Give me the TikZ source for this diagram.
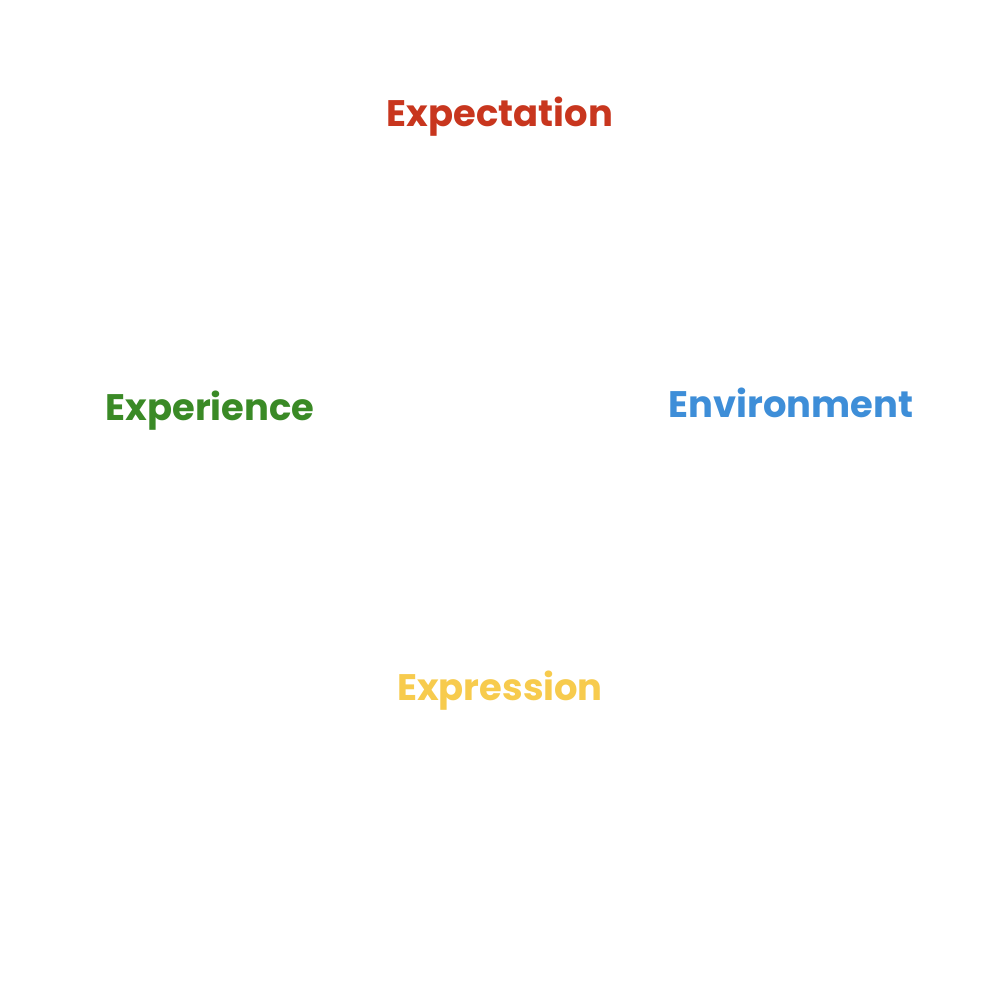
\documentclass[tikz,border=0pt]{standalone}
\usepackage{fontspec}
\setmainfont{Poppins}
\usepackage{tikz}
\definecolor{expred}{HTML}{C8361E}
\definecolor{expgreen}{HTML}{3A8A26}
\definecolor{expblue}{HTML}{3E8ED8}
\definecolor{expyellow}{HTML}{F7CB4D}
\tikzset{lbl/.style={font=\fontsize{10.5}{12}\selectfont\bfseries, anchor=base}}

\begin{document}
\begin{tikzpicture}
    % Frame
    \useasboundingbox[fill=white] (0,0) rectangle (10,9.88);

    % Labels
    \node[lbl, text=expred] (expectation) at (5, 8.61) {Expectation};
    \node[lbl, text=expgreen] (experience) at (2.10, 5.67) {Experience};
    \node[lbl, text=expblue] (environment) at (7.91, 5.70) {Environment};
    \node[lbl, text=expyellow] (expression) at (5, 2.87) {Expression};
\end{tikzpicture}
\end{document}
